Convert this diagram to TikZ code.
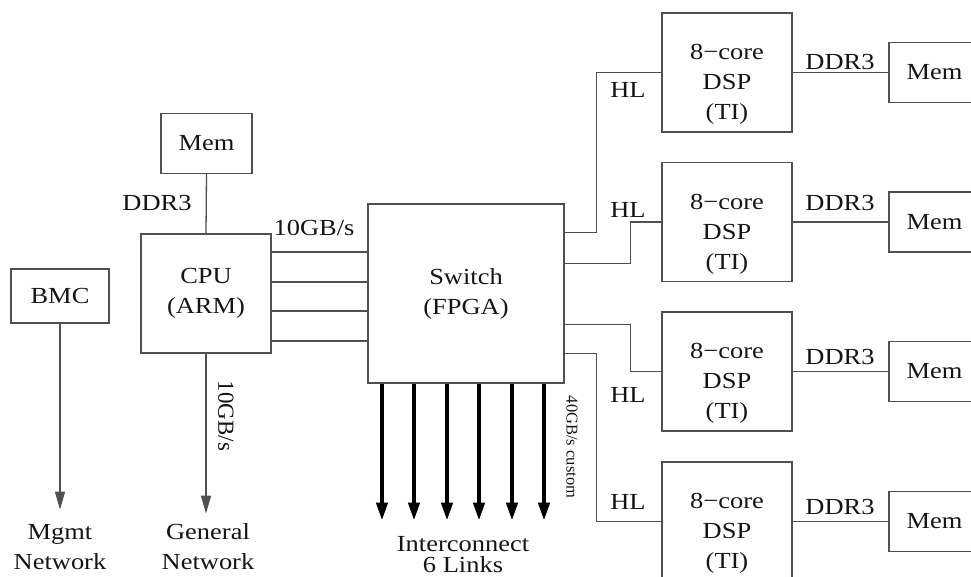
\documentclass[tikz,border=0pt]{standalone}
\usepackage{fontspec}
\setmainfont{Liberation Serif}[FakeStretch=1.15]
\newfontfamily\plainserif{Liberation Serif}
\usetikzlibrary{arrows.meta}
\definecolor{linec}{HTML}{505050}
\definecolor{txtc}{HTML}{151515}
\newcommand\bigtxt{\fontsize{23}{30}\selectfont}
\begin{document}
\begin{tikzpicture}[x=1pt,y=-1pt,
  every node/.style={text=txtc,font=\bigtxt},
  box/.style={draw=linec,line width=1.3pt,inner sep=0pt},
  lbl/.style={inner sep=0pt},
  wire/.style={draw=linec,line width=1.3pt},
  arr/.style={wire,-{Triangle[length=18pt,width=10pt]}},
  fat/.style={draw=black,line width=4pt,-{Triangle[length=18pt,width=11pt]}},
  dspbox/.style={box,minimum width=130pt,minimum height=119pt,
     label={[align=center,yshift=-12pt,font=\bigtxt,text=txtc]center:8−core\\DSP\\(TI)}},
  membox/.style={box,minimum width=91pt,minimum height=60pt}
]
\useasboundingbox (0,0) rectangle (971,577);
\clip (0,0) rectangle (971,577);

% left part
\node[membox] (memc) at (206.5,143.5) {Mem};
\node[box,minimum width=130pt,minimum height=119pt,align=center] (cpu) at (206,293.5) {CPU\\(ARM)};
\node[box,minimum width=98pt,minimum height=54pt] (bmc) at (60,296) {BMC};
\node[box,minimum width=196pt,minimum height=179pt,align=center] (sw) at (466,293.5) {Switch\\(FPGA)};

% DSPs and memories
\node[dspbox] (dsp1) at (727,72.5) {};
\node[dspbox] (dsp2) at (727,222) {};
\node[dspbox] (dsp3) at (727,371.5) {};
\node[dspbox] (dsp4) at (727,521.5) {};
\node[membox] (mem1) at (934.5,72.5) {Mem};
\node[membox] (mem2) at (934.5,222) {Mem};
\node[membox] (mem3) at (934.5,371.5) {Mem};
\node[membox] (mem4) at (934.5,521.5) {Mem};

% labels
\node[lbl] (lddrc) at (157,203) {DDR3};
\node[lbl] (l10a) at (314,228) {10GB/s};
\node[lbl,rotate=-90,font=\plainserif\fontsize{23}{28}\selectfont] (l10b) at (226,416) {10GB/s};
\node[lbl,rotate=-90,font=\plainserif\fontsize{16.5}{20}\selectfont] (l40) at (572,447) {40GB/s custom};
\node[lbl] (hl1) at (628,90) {HL};
\node[lbl] (hl2) at (628,210) {HL};
\node[lbl] (hl3) at (628,395) {HL};
\node[lbl] (hl4) at (628,502) {HL};
\node[lbl] (dd1) at (840,62) {DDR3};
\node[lbl] (dd2) at (840,203) {DDR3};
\node[lbl] (dd3) at (840,357) {DDR3};
\node[lbl] (dd4) at (840,507) {DDR3};
\node[lbl,align=center] (mgmt) at (60,547) {Mgmt\\Network};
\node[lbl,align=center] (gen) at (208,547) {General\\Network};
\node[lbl,align=center,font=\fontsize{23}{21}\selectfont] (ic) at (463,555) {Interconnect\\6 Links};

% connectors
\draw[wire] (memc.south) -- (cpu.north);
\foreach \dy in {41.5,11.5,-17.5,-47.5}
  \draw[wire] ([yshift=\dy pt]cpu.east) -- ([yshift=\dy pt]sw.west);
\draw[arr] (bmc.south) -- ++(0,186);
\draw[arr] (cpu.south) -- ++(0,160);
\foreach \dx in {-84,-52,-19,13,46,78}
  \draw[fat] ([xshift=\dx pt]sw.south) -- ++(0,137);

\draw[wire] ([yshift=61pt]sw.east) -- ++(32,0) |- (dsp1.west);
\draw[wire] ([yshift=30pt]sw.east) -- ++(66,0) |- (dsp2.west);
\draw[wire] ([yshift=-31pt]sw.east) -- ++(66,0) |- (dsp3.west);
\draw[wire] ([yshift=-60pt]sw.east) -- ++(32,0) |- (dsp4.west);

\draw[wire] (dsp1.east) -- (mem1.west);
\draw[wire] (dsp2.east) -- (mem2.west);
\draw[wire] (dsp3.east) -- (mem3.west);
\draw[wire] (dsp4.east) -- (mem4.west);
\end{tikzpicture}
\end{document}
